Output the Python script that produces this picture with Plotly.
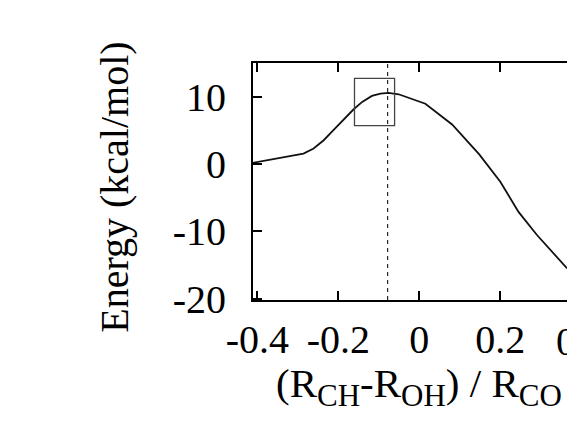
import plotly.graph_objects as go

# Energy profile along the reaction coordinate
coord = [-0.411, -0.286, -0.261, -0.236, -0.212, -0.187, -0.162, -0.141, -0.117,
         -0.096, -0.076, -0.051, 0.015, 0.081, 0.148, 0.200, 0.245, 0.290, 0.365]
energy = [0.2, 1.58, 2.33, 3.56, 5.05, 6.54, 8.17, 9.26, 10.15,
          10.5, 10.6, 10.4, 9.0, 5.9, 1.45, -2.6, -7.1, -10.5, -15.5]

# Transition-state marker and highlight box
ts_coord = -0.078
box_x = [-0.160, -0.061]
box_y = [5.74, 12.76]

x_ticks = [-0.4, -0.2, 0, 0.2]
x_tick_text = ["-0.4", "-0.2", "0", "0.2"]
x_extra_tick = 0.4
y_ticks = [-20, -10, 0, 10]
y_tick_text = ["-20", "-10", "0", "10"]

x_range = [-0.4106, 0.3647]
y_range = [-20.2, 15.05]

FONT = "Times New Roman, Liberation Serif, Times, serif"
FS = 40


def sub(s):
    return "<sub><span style='font-size:31px'>" + s + "</span></sub>"


x_title = "(R" + sub("CH") + "-R" + sub("OH") + ") / R" + sub("CO")

fig = go.Figure()
fig.add_trace(go.Scatter(x=coord, y=energy, mode="lines",
                         line=dict(color="#111111", width=1.8),
                         showlegend=False, hoverinfo="skip"))
# invisible trace on the top axis so its frame line and ticks render
fig.add_trace(go.Scatter(x=[coord[0]], y=[energy[0]], xaxis="x2", mode="lines",
                         line=dict(width=0), showlegend=False, hoverinfo="skip"))

fig.add_shape(type="line", x0=ts_coord, x1=ts_coord, y0=y_range[0], y1=y_range[1],
              xref="x", yref="y", line=dict(color="black", width=1, dash="4px,4px"))
fig.add_shape(type="rect", x0=box_x[0], x1=box_x[1], y0=box_y[0], y1=box_y[1],
              xref="x", yref="y", line=dict(color="#444444", width=1.3))

axis_common = dict(showgrid=False, zeroline=False, showline=True, linecolor="black",
                   linewidth=2, ticks="inside", ticklen=9, tickwidth=1.5,
                   tickcolor="black", tickfont=dict(family=FONT, size=FS, color="black"))

# paper position of the 0.4 label, which sits past the right edge of the visible range
extra_tick_paper = (x_extra_tick - x_range[0]) / (x_range[1] - x_range[0])

fig.update_layout(
    width=567, height=421,
    margin=dict(l=253, r=0, t=63, b=121),
    paper_bgcolor="white", plot_bgcolor="white",
    xaxis=dict(range=x_range, tickvals=x_ticks, ticktext=x_tick_text,
               ticklabelstandoff=3, **axis_common),
    xaxis2=dict(range=x_range, overlaying="x", side="top", tickvals=x_ticks,
                showticklabels=False, **axis_common),
    yaxis=dict(range=y_range, tickvals=y_ticks, ticktext=y_tick_text,
               ticklabelstandoff=17, **axis_common),
    annotations=[
        dict(text="Energy (kcal/mol)", textangle=-90, xref="paper", yref="paper",
             x=-0.44, y=0.477, xanchor="center", yanchor="middle", showarrow=False,
             font=dict(family=FONT, size=FS, color="black")),
        dict(text=x_title, xref="x", yref="paper",
             x=0, y=-0.365, xanchor="center", yanchor="middle", showarrow=False,
             font=dict(family=FONT, size=41, color="black")),
        dict(text=str(x_extra_tick), xref="paper", yref="paper", x=extra_tick_paper,
             y=-0.175, xanchor="center", yanchor="middle", showarrow=False,
             font=dict(family=FONT, size=FS, color="black")),
    ],
)

fig.write_html("out.html")
